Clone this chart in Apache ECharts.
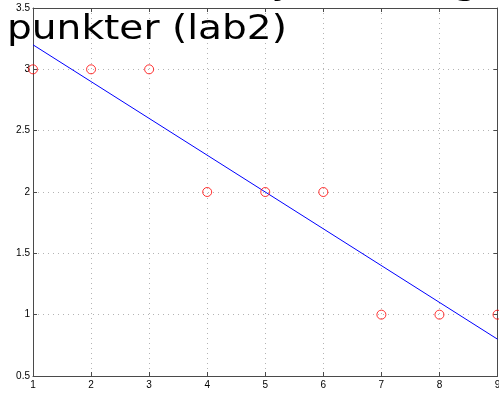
<!DOCTYPE html>
<html><head><meta charset="utf-8">
<script src="https://cdn.jsdelivr.net/npm/echarts@6/dist/echarts.min.js"></script>
<style>html,body{margin:0;padding:0;background:#fff;overflow:hidden}#c{width:499px;height:393px}</style>
</head><body><div id="c"></div>
<script>
const xValues = [1, 2, 3, 4, 5, 6, 7, 8, 9];
const yValues = [3, 3, 3, 2, 2, 2, 1, 1, 1];
const fitX = [1, 9];
const fitY = [3.2, 0.8];
const xRange = {min: 1, max: 9, interval: 1};
const yRange = {min: 0.5, max: 3.5, interval: 0.5};
const titleLines = ["Minste kvadraters Polynom av grad 1 gjennom 9", "punkter (lab2)"];

const points = xValues.map((x, i) => [x, yValues[i]]);
const fitLine = fitX.map((x, i) => [x, fitY[i]]);

const chart = echarts.init(document.getElementById('c'), null, {renderer: 'canvas'});
const axisLineStyle = {color: '#4a4a4a', width: 1};
const labelStyle = {color: '#000', fontSize: 10, fontFamily: 'Liberation Sans, Arial, sans-serif'};
const split = {show: true, lineStyle: {color: '#b4b4b4', type: [1, 4], width: 1}};

chart.setOption({
  animation: false,
  backgroundColor: '#fff',
  grid: {left: 33, right: 1.5, top: 8, bottom: 17, containLabel: false, outerBoundsMode: 'none'},
  xAxis: [
    {type: 'value', position: 'bottom', min: xRange.min, max: xRange.max, interval: xRange.interval,
     axisLine: {show: true, onZero: false, lineStyle: axisLineStyle},
     axisTick: {show: true, inside: true, length: 4, lineStyle: axisLineStyle},
     axisLabel: Object.assign({margin: 4}, labelStyle),
     splitLine: split},
    {type: 'value', position: 'top', min: xRange.min, max: xRange.max, interval: xRange.interval,
     axisLine: {show: true, onZero: false, lineStyle: axisLineStyle},
     axisTick: {show: true, inside: true, length: 4, lineStyle: axisLineStyle},
     axisLabel: {show: false}, splitLine: {show: false}}
  ],
  yAxis: [
    {type: 'value', position: 'left', min: yRange.min, max: yRange.max, interval: yRange.interval,
     axisLine: {show: true, onZero: false, lineStyle: axisLineStyle},
     axisTick: {show: true, inside: true, length: 4, lineStyle: axisLineStyle},
     axisLabel: Object.assign({margin: 3}, labelStyle),
     splitLine: split},
    {type: 'value', position: 'right', min: yRange.min, max: yRange.max, interval: yRange.interval,
     axisLine: {show: true, onZero: false, lineStyle: axisLineStyle},
     axisTick: {show: true, inside: true, length: 4, lineStyle: axisLineStyle},
     axisLabel: {show: false}, splitLine: {show: false}}
  ],
  series: [
    {type: 'line', data: fitLine, showSymbol: false, symbol: 'none',
     lineStyle: {color: '#0000ff', width: 1}, z: 3},
    {type: 'scatter', data: points, symbol: 'circle', symbolSize: 9,
     itemStyle: {color: 'rgba(0,0,0,0)', borderColor: '#ff0000', borderWidth: 1}, z: 4}
  ],
  graphic: [
    {type: 'text', x: -150, y: -32, z: 10, scaleX: 1.15,
     style: {text: titleLines[0], fill: '#000', font: '34px "DejaVu Sans"'}},
    {type: 'text', x: 7, y: 13, z: 10, scaleX: 1.15,
     style: {text: titleLines[1], fill: '#000', font: '34px "DejaVu Sans"'}}
  ]
});
</script></body></html>
